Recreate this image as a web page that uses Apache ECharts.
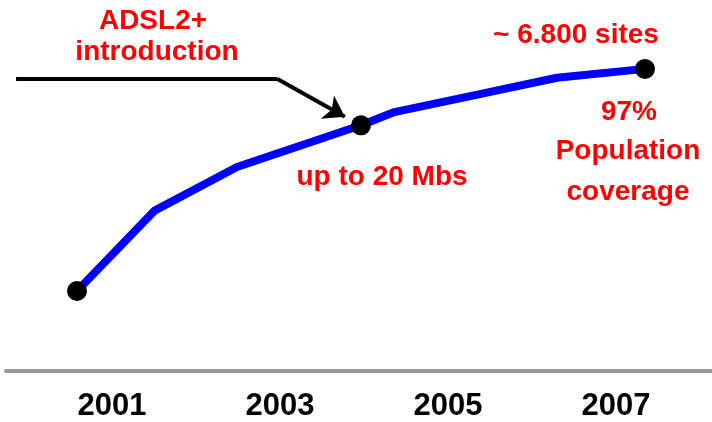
<!DOCTYPE html>
<html>
<head>
<meta charset="utf-8">
<script src="https://cdn.jsdelivr.net/npm/echarts@6/dist/echarts.min.js"></script>
<style>
    html, body { margin: 0; padding: 0; background: #fff; }
    #chart { width: 712px; height: 422px; }
</style>
</head>
<body>
<div id="chart"></div>
<script>
// rollout curve, x in years, y in number of sites
const years = [2001, 2001.82, 2002.69, 2004.0, 2004.34, 2005.23, 2006.07, 2007];
const sites = [1800, 3610, 4590, 5530, 5820, 6220, 6600, 6800];
// points marked with a black dot
const dotIndex = [0, 3, 7];
// year labels under the axis
const yearLabels = [2001, 2003, 2005, 2007];
// arrow pointing at ADSL2+ introduction (data units)
const arrowPath = [[2000.356, 6577], [2003.113, 6577], [2003.83, 5720]];

const red = "#ff0000";
const font = "Liberation Sans, Arial, sans-serif";

let chart = echarts.init(document.getElementById("chart"));

function note(text, x, y) {
    return {
        type: "text",
        x: x,
        y: y,
        z: 10,
        style: {
            text: text,
            fill: red,
            font: "bold 28px " + font,
            textAlign: "center",
            textVerticalAlign: "middle",
        },
    };
}

const arrowStyle = { color: "#000", width: 4, opacity: 1 };

chart.setOption({
    animation: false,
    grid: {
        left: 6,
        right: 0,
        top: 60,
        bottom: 48,
    },
    xAxis: [
        {
            type: "value",
            show: false,
            position: "top",
            min: 2000.25,
            max: 2007.708,
        },
        {
            type: "value",
            position: "bottom",
            min: 1999.738,
            max: 2008.143,
            axisLine: {
                show: true,
                lineStyle: { color: "#999999", width: 4 },
            },
            axisTick: { show: false },
            splitLine: { show: false },
            axisLabel: {
                customValues: yearLabels,
                formatter: v => String(v),
                margin: 20,
                color: "#000",
                fontSize: 31,
                fontWeight: "bold",
                fontFamily: font,
            },
        },
    ],
    yAxis: {
        type: "value",
        show: false,
        min: 0,
        max: 7000,
    },
    series: [
        {
            type: "line",
            xAxisIndex: 0,
            data: years.map((y, i) => [y, sites[i]]),
            showSymbol: false,
            lineStyle: { color: "#0000ff", width: 8 },
            z: 2,
        },
        {
            type: "scatter",
            xAxisIndex: 0,
            data: dotIndex.map(i => [years[i], sites[i]]),
            symbolSize: 20,
            itemStyle: { color: "#000", opacity: 1 },
            z: 3,
        },
        {
            type: "lines",
            coordinateSystem: "cartesian2d",
            xAxisIndex: 0,
            data: [{ coords: [arrowPath[0], arrowPath[1]] }],
            symbol: ["none", "none"],
            lineStyle: arrowStyle,
            z: 4,
        },
        {
            type: "lines",
            coordinateSystem: "cartesian2d",
            xAxisIndex: 0,
            data: [{ coords: [arrowPath[1], arrowPath[2]] }],
            symbol: ["none", "arrow"],
            symbolSize: [18, 20],
            lineStyle: arrowStyle,
            z: 4,
        },
    ],
    graphic: [
        note("ADSL2+", 153, 21),
        note("introduction", 157, 52),
        note("~ 6.800 sites", 576, 35),
        note("up to 20 Mbs", 382, 177),
        note("97%", 629, 112),
        note("Population", 628, 151),
        note("coverage", 628, 192),
    ],
});
</script>
</body>
</html>
